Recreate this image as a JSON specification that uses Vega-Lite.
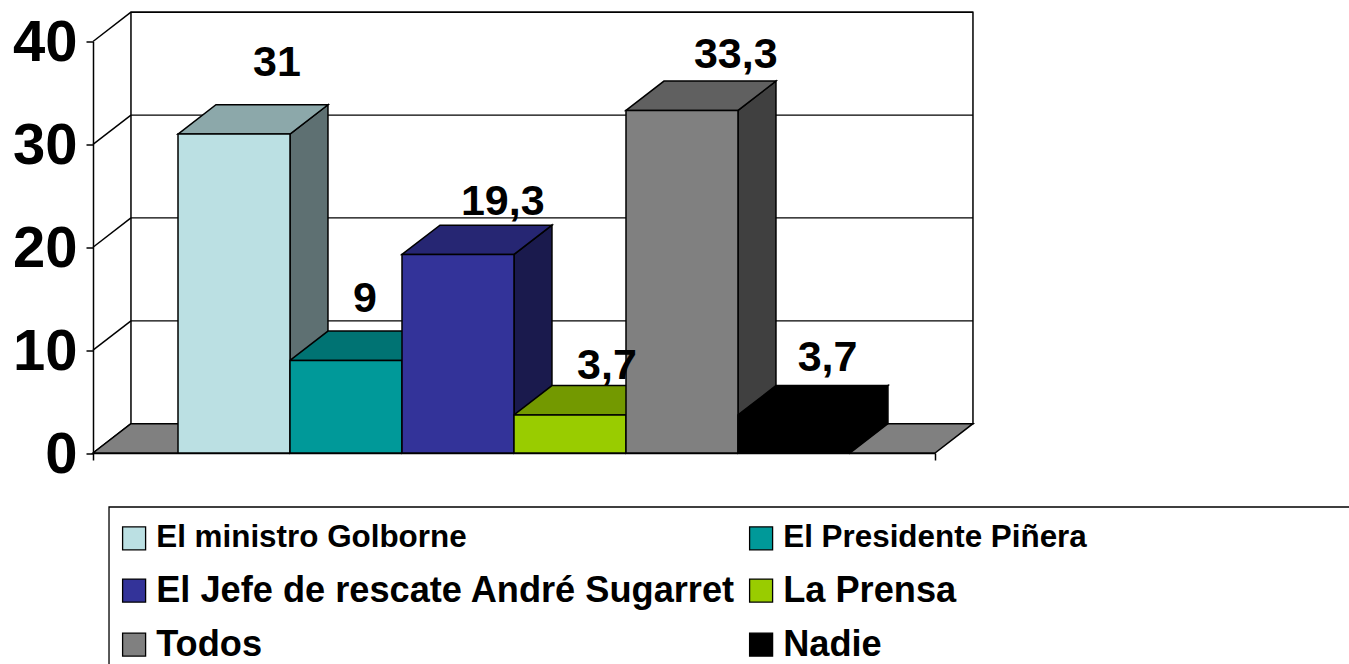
{
"$schema":"https://vega.github.io/schema/vega-lite/v6.json",
"width":842,"height":411.5,
"autosize":"none",
"padding":{"left":93,"top":41.5,"right":414,"bottom":211},
"background":"white",
"config":{"view":{"stroke":null},"font":"Liberation Sans"},
"datasets":{
"bars":[
{"name":"El ministro Golborne","order":0,"value":31},
{"name":"El Presidente Piñera","order":1,"value":9},
{"name":"El Jefe de rescate André Sugarret","order":2,"value":19.3},
{"name":"La Prensa","order":3,"value":3.7},
{"name":"Todos","order":4,"value":33.3},
{"name":"Nadie","order":5,"value":3.7}
],
"ticks":[{"t":0},{"t":10},{"t":20},{"t":30},{"t":40}]
},
"resolve":{"scale":{"color":"independent"}},
"layer":[
{"data":{"values":[{"wall":"back"}]},
 "mark":{"type":"rect","fill":"white","stroke":"black","strokeWidth":1.5},
 "encoding":{
  "x":{"datum":-0.42,"type":"quantitative","scale":{"domain":[-0.759,6.759],"nice":false,"zero":false},"axis":{"values":[-0.759,6.759],"labels":false,"title":null,"grid":false,"tickSize":7,"tickWidth":1.5,"tickColor":"black","domainColor":"black","domainWidth":1.5}},
  "x2":{"datum":7.098},
  "y":{"datum":2.85,"type":"quantitative","scale":{"domain":[0,40],"nice":false},"axis":{"values":[0,10,20,30,40],"title":null,"grid":false,"tickSize":7,"tickWidth":1.5,"tickColor":"black","domainColor":"black","domainWidth":1.5,"labelFont":"Liberation Sans","labelFontWeight":"bold","labelFontSize":58,"labelColor":"black","labelPadding":9,"labelOffset":2,"labelFlush":false,"labelOverlap":false}},
  "y2":{"datum":42.85}
 }},
{"data":{"values":[{"frame":"legend"}]},
 "mark":{"type":"rect","fill":"white","stroke":"black","strokeWidth":1.3},
 "encoding":{"x":{"datum":-0.616,"type":"quantitative"},"x2":{"datum":10.6},"y":{"datum":-5.25,"type":"quantitative"},"y2":{"datum":-25}}},
{"data":{"name":"ticks"},"transform":[{"filter":"datum.t>0"},{"calculate":"datum.t+2.85","as":"tb"}],
 "mark":{"type":"rule","color":"black","strokeWidth":1.3},
 "encoding":{"x":{"datum":-0.42,"type":"quantitative"},"x2":{"datum":7.098},"y":{"field":"tb","type":"quantitative"}}},
{"data":{"name":"ticks"},"transform":[{"calculate":"datum.t+2.85","as":"tb"}],
 "mark":{"type":"rule","color":"black","strokeWidth":1.5},
 "encoding":{"x":{"datum":-0.759,"type":"quantitative"},"x2":{"datum":-0.42},"y":{"field":"t","type":"quantitative"},"y2":{"field":"tb"}}},
{"data":{"values":[{"floor":"gray"}]},
 "transform":[{"calculate":"[0,1,2,3]","as":"v"},{"flatten":["v"]},
  {"calculate":"[-0.759,-0.42,6.759,7.098][datum.v]","as":"fx"},
  {"calculate":"[0,0,0,2.85][datum.v]","as":"lo"},
  {"calculate":"[0,2.85,2.85,2.85][datum.v]","as":"hi"}],
 "mark":{"type":"area","orient":"vertical","fill":"#808080","stroke":"black","strokeWidth":1.5},
 "encoding":{"x":{"field":"fx","type":"quantitative"},"y":{"field":"hi","type":"quantitative"},"y2":{"field":"lo"}}},
{"data":{"name":"bars"},
 "transform":[{"calculate":"[0,1]","as":"v"},{"flatten":["v"]},
  {"calculate":"datum.order+1+0.339*datum.v","as":"fx"},
  {"calculate":"2.85*datum.v","as":"lo"},
  {"calculate":"datum.value+2.85*datum.v","as":"hi"}],
 "mark":{"type":"area","orient":"vertical","stroke":"black","strokeWidth":1.5},
 "encoding":{"x":{"field":"fx","type":"quantitative"},"y":{"field":"hi","type":"quantitative"},"y2":{"field":"lo"},
  "color":{"field":"name","type":"nominal","legend":null,"scale":{"domain":["El ministro Golborne","El Presidente Piñera","El Jefe de rescate André Sugarret","La Prensa","Todos","Nadie"],"range":["#5E7072","#004D4D","#1A1A4D","#4D6600","#404040","#000000"]}}}},
{"data":{"name":"bars"},
 "transform":[{"calculate":"[0,1,2,3]","as":"v"},{"flatten":["v"]},
  {"calculate":"datum.order+[0,0.339,1,1.339][datum.v]","as":"fx"},
  {"calculate":"datum.value+[0,0,0,2.85][datum.v]","as":"lo"},
  {"calculate":"datum.value+[0,2.85,2.85,2.85][datum.v]","as":"hi"}],
 "mark":{"type":"area","orient":"vertical","stroke":"black","strokeWidth":1.5},
 "encoding":{"x":{"field":"fx","type":"quantitative"},"y":{"field":"hi","type":"quantitative"},"y2":{"field":"lo"},
  "color":{"field":"name","type":"nominal","legend":null,"scale":{"domain":["El ministro Golborne","El Presidente Piñera","El Jefe de rescate André Sugarret","La Prensa","Todos","Nadie"],"range":["#8CA8AA","#007373","#262673","#739900","#606060","#000000"]}}}},
{"data":{"name":"bars"},
 "transform":[{"calculate":"datum.order+1","as":"right"}],
 "mark":{"type":"rect","stroke":"black","strokeWidth":1.5},
 "encoding":{"x":{"field":"order","type":"quantitative"},"x2":{"field":"right"},"y":{"field":"value","type":"quantitative"},"y2":{"datum":0},
  "color":{"field":"name","type":"nominal","scale":{"domain":["El ministro Golborne","El Presidente Piñera","El Jefe de rescate André Sugarret","La Prensa","Todos","Nadie"],"range":["#BBE0E3","#009999","#333399","#99CC00","#808080","#000000"]},
   "legend":{"title":null,"orient":"none","legendX":23,"legendY":477,"direction":"horizontal","columns":2,"columnPadding":7,"rowPadding":17,"padding":0,"gridAlign":"all","symbolType":"square","symbolSize":529,"symbolStrokeColor":"black","symbolStrokeWidth":1.3,"labelFont":"Liberation Sans","labelFontWeight":"bold","labelFontSize":36,"labelColor":"black","labelLimit":0,"labelOffset":4,"offset":0,
    "encode":{"labels":{"update":{"fontSize":{"signal":"datum.value=='El ministro Golborne'||datum.value=='El Presidente Piñera'?31.4:36.2"}}}}}}}},
{"data":{"name":"bars"},
 "transform":[
  {"calculate":"datum.order+[0.884,0.67,0.9,0.83,0.98,0.8][datum.order]","as":"lx"},
  {"calculate":"datum.value+[6.9,6.0,5.1,4.8,5.4,5.5][datum.order]","as":"ly"},
  {"calculate":"replace(''+datum.value,'.',',')","as":"label"}],
 "mark":{"type":"text","font":"Liberation Sans","fontWeight":"bold","fontSize":43,"color":"black","align":"center","baseline":"middle"},
 "encoding":{"x":{"field":"lx","type":"quantitative"},"y":{"field":"ly","type":"quantitative"},"text":{"field":"label","type":"nominal"}}}
]
}
